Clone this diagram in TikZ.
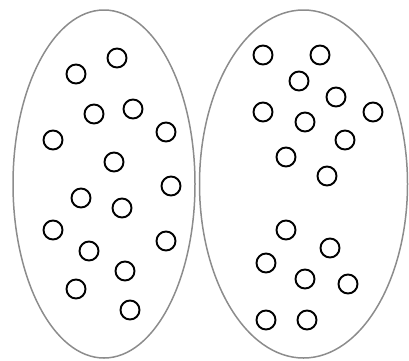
\documentclass[tikz,border=0pt]{standalone}
\usetikzlibrary{shapes.geometric}
\begin{document}
\begin{tikzpicture}[x=1pt,y=-1pt,
  setring/.style={draw=black!45,line width=1.5pt},
  dot/.style={circle,draw=black,line width=1.9pt,minimum size=19pt,inner sep=0pt}]
\useasboundingbox (0,0) rectangle (409,360);
\node[setring,ellipse,minimum width=182pt,minimum height=348pt,inner sep=0pt] (L) at (104,184) {};
\node[setring,ellipse,minimum width=208pt,minimum height=348pt,inner sep=0pt] (R) at (303.5,184) {};
% left circles
\foreach \x/\y [count=\i] in {117/58,76/74,94/114,133/109,53/140,166/132,114/162,171/186,81/198,122/208,53/230,89/251,166/241,125/271,76/289,130/310}
  \node[dot] (l\i) at (\x,\y) {};
% right circles
\foreach \x/\y [count=\i] in {263/55,320/55,299/81,336/97,263/112,305/122,373/112,345/140,286/157,327/176,286/230,330/248,266/263,305/279,348/284,266/320,307/320}
  \node[dot] (r\i) at (\x,\y) {};
\end{tikzpicture}
\end{document}
